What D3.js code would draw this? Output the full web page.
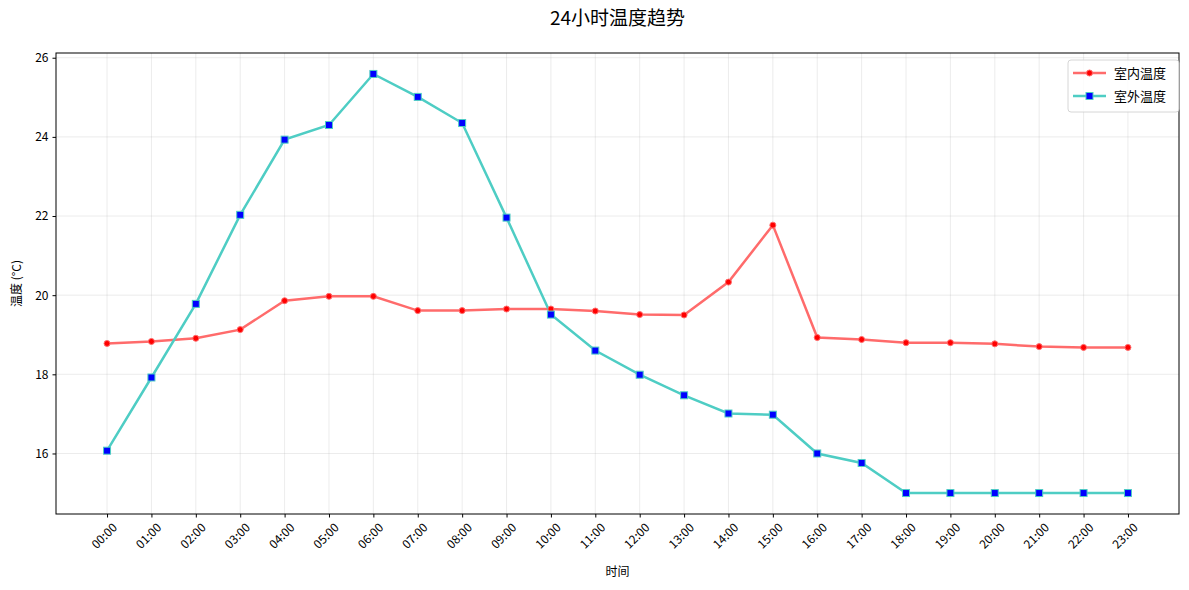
<!DOCTYPE html>
<html>
<head>
<meta charset="utf-8">
<script src="https://cdn.jsdelivr.net/npm/d3@7"></script>
<style>
  body { margin: 0; background: #fff; }
  text { font-family: "Noto Sans CJK SC", "DejaVu Sans", sans-serif; fill: #000; }
</style>
</head>
<body>
<svg id="chart" width="1189" height="590"></svg>
<script>
// 数据
var hours = ["00:00","01:00","02:00","03:00","04:00","05:00","06:00","07:00","08:00","09:00","10:00","11:00",
             "12:00","13:00","14:00","15:00","16:00","17:00","18:00","19:00","20:00","21:00","22:00","23:00"];
var indoor = [18.78, 18.83, 18.91, 19.13, 19.86, 19.97, 19.97, 19.61, 19.61, 19.65, 19.65, 19.60,
              19.51, 19.50, 20.33, 21.77, 18.93, 18.88, 18.80, 18.80, 18.77, 18.70, 18.68, 18.68];
var outdoor = [16.07, 17.92, 19.78, 22.03, 23.93, 24.30, 25.59, 25.01, 24.35, 21.96, 19.51, 18.60,
               17.99, 17.47, 17.01, 16.98, 16.00, 15.76, 15.00, 15.00, 15.00, 15.00, 15.00, 15.00];
var yTicks = [16, 18, 20, 22, 24, 26];
var seriesNames = ["室内温度", "室外温度"];

var svg = d3.select("#chart");
var margin = {left: 56, right: 10, top: 53, bottom: 76};
var W = 1189, H = 590;
var pw = W - margin.left - margin.right, ph = H - margin.top - margin.bottom;

var all = indoor.concat(outdoor);
var lo = d3.min(all), hi = d3.max(all), pad = (hi - lo) * 0.05;

var x = d3.scaleLinear().domain([-1.15, hours.length - 1 + 1.15]).range([0, pw]);
var y = d3.scaleLinear().domain([lo - pad, hi + pad]).range([ph, 0]);

var g = svg.append("g").attr("transform", "translate(" + margin.left + "," + margin.top + ")");

// grid
g.append("g").selectAll("line").data(d3.range(hours.length)).enter().append("line")
  .attr("x1", function(d){ return x(d); }).attr("x2", function(d){ return x(d); })
  .attr("y1", 0).attr("y2", ph)
  .attr("stroke", "#b0b0b0").attr("stroke-opacity", 0.3).attr("stroke-width", 0.8);
g.append("g").selectAll("line").data(yTicks).enter().append("line")
  .attr("x1", 0).attr("x2", pw)
  .attr("y1", function(d){ return y(d); }).attr("y2", function(d){ return y(d); })
  .attr("stroke", "#b0b0b0").attr("stroke-opacity", 0.3).attr("stroke-width", 0.8);

// axes
var xAxis = d3.axisBottom(x).tickValues(d3.range(hours.length))
  .tickFormat(function(i){ return hours[i]; }).tickSize(3.5).tickPadding(3);
var gx = g.append("g").attr("transform", "translate(0," + ph + ")").call(xAxis);
gx.select(".domain").remove();
gx.selectAll("text")
  .style("font-size", "12px")
  .attr("text-anchor", "end")
  .attr("dy", "0.2em")
  .attr("transform", function(){ return "translate(4,8) rotate(-45)"; });

var yAxis = d3.axisLeft(y).tickValues(yTicks).tickSize(3.5).tickPadding(4);
var gy = g.append("g").call(yAxis);
gy.select(".domain").remove();
gy.selectAll("text").style("font-size", "12px");
g.selectAll(".tick line").attr("stroke", "#000").attr("stroke-width", 1);

// lines
var line = d3.line().x(function(d, i){ return x(i); }).y(function(d){ return y(d); });
g.append("path").datum(indoor).attr("d", line)
  .attr("fill", "none").attr("stroke", "#FF6B6B").attr("stroke-width", 2.5);
g.append("path").datum(outdoor).attr("d", line)
  .attr("fill", "none").attr("stroke", "#4ECDC4").attr("stroke-width", 2.5);

g.append("g").selectAll("circle").data(indoor).enter().append("circle")
  .attr("cx", function(d, i){ return x(i); }).attr("cy", function(d){ return y(d); })
  .attr("r", 3).attr("fill", "red").attr("stroke", "#FF6B6B").attr("stroke-width", 1);
g.append("g").selectAll("rect").data(outdoor).enter().append("rect")
  .attr("x", function(d, i){ return x(i) - 3.5; }).attr("y", function(d){ return y(d) - 3.5; })
  .attr("width", 7).attr("height", 7).attr("fill", "blue").attr("stroke", "#4ECDC4").attr("stroke-width", 1);

// frame
g.append("rect").attr("x", 0).attr("y", 0).attr("width", pw).attr("height", ph)
  .attr("fill", "none").attr("stroke", "#000").attr("stroke-width", 1);

// titles
svg.append("text").attr("x", margin.left + pw / 2).attr("y", 25).attr("text-anchor", "middle")
  .style("font-size", "19px").text("24小时温度趋势");
svg.append("text").attr("x", margin.left + pw / 2).attr("y", 576).attr("text-anchor", "middle")
  .style("font-size", "12px").text("时间");
svg.append("text").attr("transform", "translate(21," + (margin.top + ph / 2) + ") rotate(-90)")
  .attr("text-anchor", "middle").style("font-size", "12px").text("温度 (°C)");

// legend
var lg = svg.append("g").attr("transform", "translate(1068,60)");
lg.append("rect").attr("width", 111).attr("height", 52).attr("rx", 3)
  .attr("fill", "#fff").attr("fill-opacity", 0.8).attr("stroke", "#ccc").attr("stroke-width", 0.8);
var items = lg.selectAll("g.item").data(seriesNames).enter().append("g")
  .attr("transform", function(d, i){ return "translate(0," + (13 + i * 23) + ")"; });
items.append("line").attr("x1", 5).attr("x2", 38).attr("y1", 0).attr("y2", 0)
  .attr("stroke", function(d, i){ return i == 0 ? "#FF6B6B" : "#4ECDC4"; }).attr("stroke-width", 2.5);
items.filter(function(d, i){ return i == 0; }).append("circle")
  .attr("cx", 21.5).attr("cy", 0).attr("r", 3).attr("fill", "red").attr("stroke", "#FF6B6B");
items.filter(function(d, i){ return i == 1; }).append("rect")
  .attr("x", 18).attr("y", -3.5).attr("width", 7).attr("height", 7).attr("fill", "blue").attr("stroke", "#4ECDC4");
items.append("text").attr("x", 46).attr("y", 0).attr("dy", "0.35em")
  .style("font-size", "13px").text(function(d){ return d; });
</script>
</body>
</html>
